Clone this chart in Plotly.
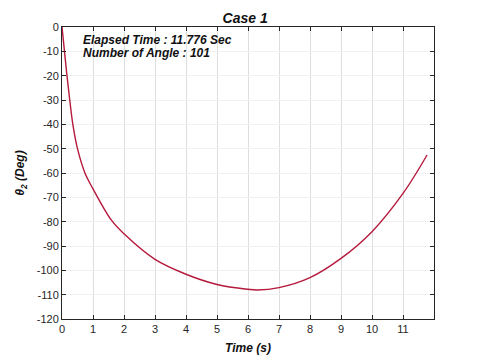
import plotly.graph_objects as go

# values
time_s = [0, 0.08, 0.16, 0.25, 0.35, 0.5, 0.74, 1.0, 1.6, 2, 3, 4, 5, 6, 6.3, 7, 8, 9, 10, 11, 11.776]
theta2 = [0, -10, -20, -30, -40, -50, -60, -66.5, -79.5, -85, -95.5, -101.6, -105.8,
          -107.8, -108.1, -107.1, -103.0, -95.1, -84.1, -68.4, -52.6]
xticks = list(range(0, 12))
yticks = list(range(-120, 1, 10))

elapsed = 11.776
n_angle = 101

font = "Liberation Sans, Arial, sans-serif"
axcol = "#262626"

fig = go.Figure()
fig.add_trace(go.Scatter(x=time_s, y=theta2, mode="lines", line_shape="spline",
                         line=dict(color="#b5193c", width=1.4), showlegend=False))

# info text, one annotation per line to keep the tight spacing
for i, txt in enumerate([f"Elapsed Time : {elapsed} Sec", f"Number of Angle : {n_angle}"]):
    fig.add_annotation(x=0.05, y=0.955 - i * 0.043, xref="paper", yref="paper",
                       xanchor="left", yanchor="middle", showarrow=False,
                       text=f"<b><i>{txt}</i></b>",
                       font=dict(family=font, size=12, color="#111111"))

fig.update_xaxes(range=[0, 12], tickvals=xticks, ticktext=[str(v) for v in xticks],
                 showgrid=True, gridcolor="#dedede", gridwidth=1, automargin=False,
                 showline=True, linecolor=axcol, linewidth=1, mirror="ticks",
                 ticks="inside", ticklen=4, tickcolor=axcol, zeroline=False,
                 tickfont=dict(family=font, size=11, color=axcol),
                 title=dict(text="<b><i>Time (s)</i></b>", font=dict(family=font, size=12, color="#111111"),
                            standoff=9))
fig.update_yaxes(range=[-120, 0], tickvals=yticks, ticktext=[str(v) for v in yticks],
                 showgrid=True, gridcolor="#f0f0f0", gridwidth=1, automargin=False,
                 showline=True, linecolor=axcol, linewidth=1, mirror="ticks",
                 ticks="inside", ticklen=4, tickcolor=axcol, zeroline=False,
                 tickfont=dict(family=font, size=11, color=axcol),
                 title=dict(text="<b><i>θ<sub>2</sub> (Deg)</i></b>", font=dict(family=font, size=12, color="#111111"),
                            standoff=9))

# page body adds an 8px offset, margins compensate for it
fig.update_layout(width=480, height=358, plot_bgcolor="white", paper_bgcolor="white",
                  margin=dict(l=54, r=54, t=19, b=47),
                  title=dict(text="<b><i>Case 1</i></b>", x=0.494, xanchor="center", y=0.985, yanchor="top",
                             font=dict(family=font, size=14, color="#111111")))

fig.write_html("out.html")
